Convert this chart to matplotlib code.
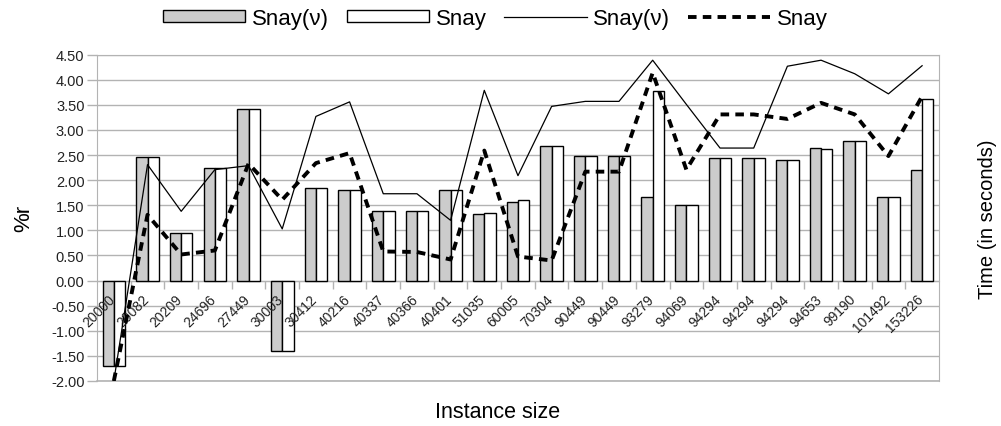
#!/usr/bin/env python3
"""Snay(v) vs Snay: %r bars and run-time lines per instance size."""

import matplotlib
matplotlib.use("Agg")
import matplotlib.pyplot as plt
import matplotlib.transforms as mtransforms
import numpy as np

plt.rcParams["font.family"] = ["Liberation Sans", "DejaVu Sans"]

instances = ["20000", "20082", "20209", "24696", "27449", "30003", "30412",
             "40216", "40337", "40366", "40401", "51035", "60005", "70304",
             "90449", "90449", "93279", "94069", "94294", "94294", "94294",
             "94653", "99190", "101492", "153226"]

# %r bars
r_snay_v = [-1.70, 2.47, 0.95, 2.25, 3.41, -1.40, 1.84, 1.81, 1.38, 1.38,
            1.81, 1.33, 1.57, 2.69, 2.49, 2.49, 1.67, 1.51, 2.45, 2.45,
            2.40, 2.64, 2.79, 1.67, 2.20]
r_snay = [-1.70, 2.47, 0.95, 2.25, 3.41, -1.40, 1.84, 1.81, 1.38, 1.38,
          1.81, 1.35, 1.60, 2.69, 2.49, 2.49, 3.78, 1.51, 2.45, 2.45,
          2.40, 2.62, 2.79, 1.67, 3.62]

# time lines (secondary axis, same range)
t_snay_v = [-2.00, 2.31, 1.38, 2.21, 2.29, 1.03, 3.27, 3.56, 1.73, 1.73,
            1.20, 3.79, 2.09, 3.47, 3.57, 3.57, 4.39, 3.51, 2.64, 2.64,
            4.27, 4.39, 4.12, 3.72, 4.28]
t_snay = [-2.00, 1.31, 0.52, 0.60, 2.33, 1.61, 2.34, 2.54, 0.58, 0.57,
          0.42, 2.59, 0.48, 0.40, 2.17, 2.17, 4.14, 2.21, 3.31, 3.31,
          3.22, 3.54, 3.31, 2.48, 3.67]

GRID = "#b3b3b3"
x = np.arange(len(instances))
w = 0.335

fig = plt.figure(figsize=(10.01, 4.27), dpi=100)
ax = fig.add_axes([0.0969, 0.1054, 0.8411, 0.7642])

ax.bar(x - w / 2, r_snay_v, w, color="#cccccc", edgecolor="black",
       linewidth=1, label="Snay(\u03bd)", zorder=3)
ax.bar(x + w / 2, r_snay, w, color="white", edgecolor="black",
       linewidth=1, label="Snay", zorder=3)

ax.set_xlim(-0.5, len(instances) - 0.5)
ax.set_ylim(-2.0, 4.5)
yt = np.arange(-2.0, 4.51, 0.5)
ax.set_yticks(yt)
ax.set_yticklabels([f"{v:.2f}" for v in yt])
ax.yaxis.grid(True, color=GRID, linewidth=1, zorder=0)
ax.set_axisbelow(True)
ax.axhline(-2.0, color=GRID, linewidth=1.2, clip_on=False, zorder=1)

for s in ax.spines.values():
    s.set_color(GRID)
ax.spines["bottom"].set_position(("data", 0))
ax.set_xticks(np.arange(0.5, len(instances) - 0.5, 1.0))
ax.set_xticklabels([])
ax.tick_params(axis="x", colors=GRID, length=6, width=1, direction="out")
ax.tick_params(axis="y", color=GRID, length=7, width=1, pad=2,
               labelsize=10.5, labelcolor="#222222")

off = mtransforms.offset_copy(ax.transData, fig=fig, x=4, y=-11, units="dots")
for i, lab in enumerate(instances):
    ax.text(i, 0, lab, rotation=45, ha="right", va="top", fontsize=10,
            color="#222222", transform=off)

ax.set_ylabel("%r", fontsize=16, labelpad=12)
fig.text(0.497, 0.033, "Instance size", ha="center", va="center",
         fontsize=15.5)

ax2 = ax.twinx()
ax2.set_ylim(ax.get_ylim())
ax2.set_yticks([])
for s in ax2.spines.values():
    s.set_visible(False)
ax2.plot(x, t_snay_v, color="black", linewidth=0.9, label="Snay(\u03bd)",
         zorder=4)
ax2.plot(x, t_snay, color="black", linewidth=2.8, dashes=(2.2, 1.6),
         label="Snay", zorder=4)
ax2.set_ylabel("Time (in seconds)", fontsize=14.5, labelpad=28)

h1, l1 = ax.get_legend_handles_labels()
h2, l2 = ax2.get_legend_handles_labels()
fig.legend(h1 + h2, l1 + l2, loc="center", bbox_to_anchor=(0.495, 0.955),
           ncol=4, frameon=False, fontsize=16, handlelength=3.7,
           handleheight=0.45, handletextpad=0.3, columnspacing=0.8)

fig.savefig("out.png", dpi=100)
